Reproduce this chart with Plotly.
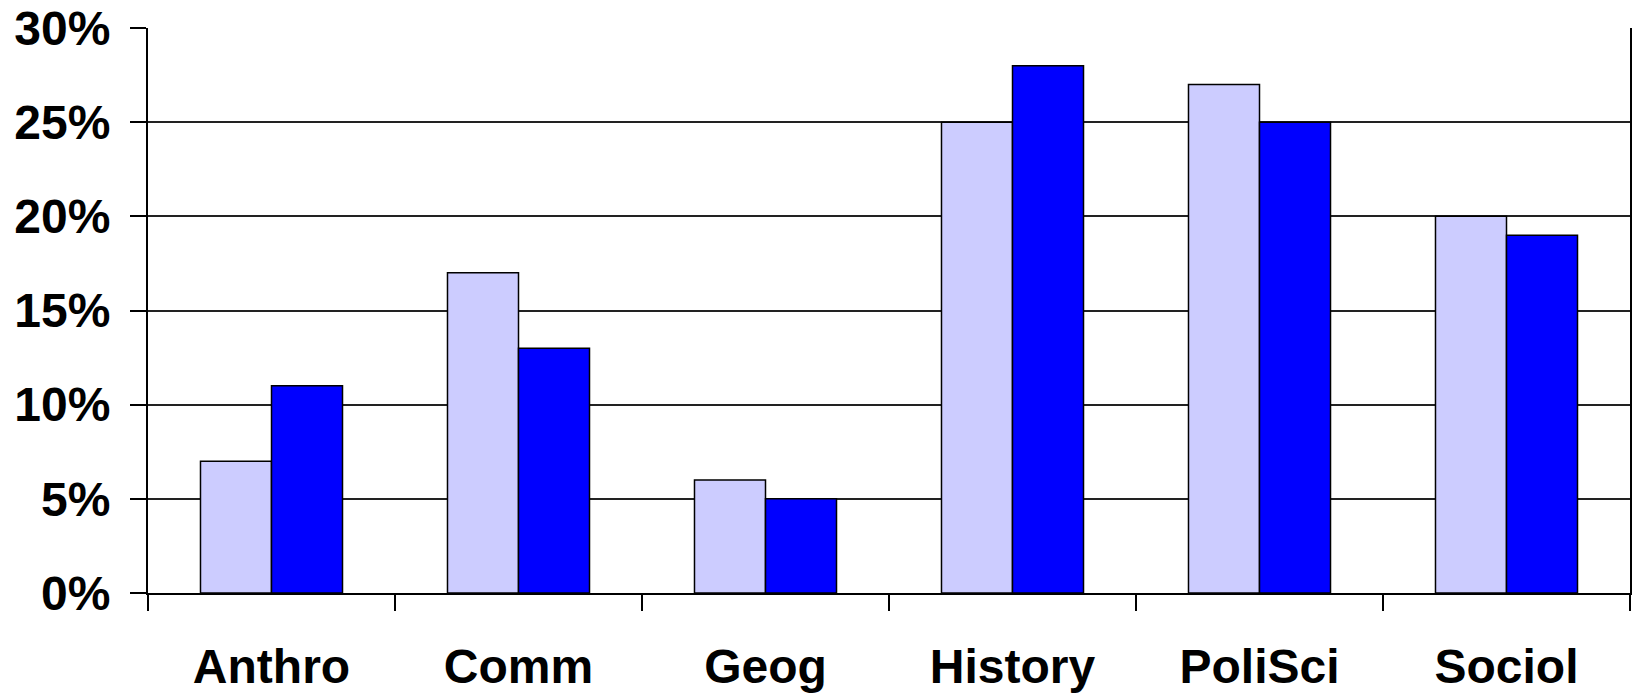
import plotly.graph_objects as go

# Share of majors by discipline, two series (values in percent)
categories = ["Anthro", "Comm", "Geog", "History", "PoliSci", "Sociol"]
series_a = [7, 17, 6, 25, 27, 20]
series_b = [11, 13, 5, 28, 25, 19]
y_ticks = [0, 5, 10, 15, 20, 25, 30]
y_tick_labels = [f"{v}%" for v in y_ticks]

font_family = "Liberation Sans, Arial, sans-serif"

fig = go.Figure()
fig.add_trace(go.Bar(
    x=categories, y=series_a, name="A",
    marker=dict(color="#CCCCFF", line=dict(color="#000000", width=1.5)),
))
fig.add_trace(go.Bar(
    x=categories, y=series_b, name="B",
    marker=dict(color="#0000FF", line=dict(color="#000000", width=1.5)),
))

fig.update_layout(
    width=1635, height=693,
    margin=dict(l=148, r=5, t=28, b=100),
    paper_bgcolor="white", plot_bgcolor="white",
    barmode="group", bargap=0.425, bargroupgap=0,
    showlegend=False,
    font=dict(family=font_family, size=48, color="black", weight=700),
)
fig.update_xaxes(
    type="category", tickson="boundaries", automargin=False,
    ticks="outside", ticklen=16, tickwidth=1.5, tickcolor="black",
    showline=True, linecolor="black", linewidth=2,
    showgrid=False, ticklabelstandoff=30,
    tickfont=dict(size=48, family=font_family, weight=700),
)
fig.update_yaxes(
    range=[0, 30], tickvals=y_ticks, ticktext=y_tick_labels, automargin=False,
    ticks="outside", ticklen=16, tickwidth=1.5, tickcolor="black",
    showline=True, linecolor="black", linewidth=2, mirror=True,
    showgrid=True, gridcolor="#222222", gridwidth=1.5,
    zeroline=False, ticklabelstandoff=10,
    tickfont=dict(size=48, family=font_family, weight=700),
)

fig.write_html("out.html")
